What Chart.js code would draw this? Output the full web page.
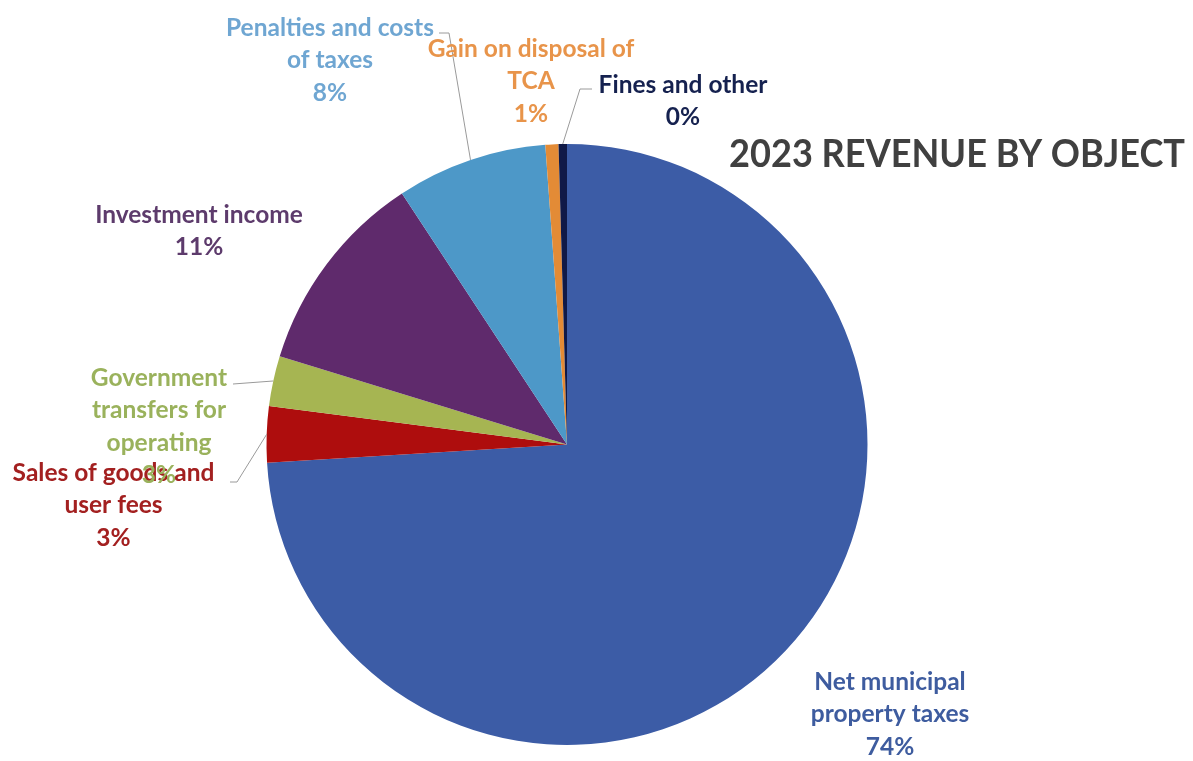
<!DOCTYPE html>
<html>
<head>
<meta charset="utf-8">
<script src="https://cdn.jsdelivr.net/npm/chart.js@4"></script>
<style>
  html, body { margin: 0; padding: 0; background: #ffffff; }
  #wrap { position: relative; width: 1193px; height: 761px; }
</style>
</head>
<body>
<div id="wrap"><canvas id="chart"></canvas></div>
<script>
// Revenue categories, in clockwise order from 12 o'clock
const categories = [
  'Net municipal property taxes',
  'Sales of goods and user fees',
  'Government transfers for operating',
  'Investment income',
  'Penalties and costs of taxes',
  'Gain on disposal of TCA',
  'Fines and other'
];
// Share of total revenue (%)
const shares = [74.0, 3.0, 2.7, 11.0, 8.1, 0.7, 0.45];
// How each category name wraps in its label
const labelLines = [
  ['Net municipal', 'property taxes'],
  ['Sales of goods and', 'user fees'],
  ['Government', 'transfers for', 'operating'],
  ['Investment income'],
  ['Penalties and costs', 'of taxes'],
  ['Gain on disposal of', 'TCA'],
  ['Fines and other']
];
const chartTitle = '2023 REVENUE BY OBJECT';

// Styling
const sliceColors = ['#3C5CA6', '#AE0D0D', '#A6B552', '#5F2A6C', '#4D98C8', '#E38B36', '#101947'];
const textColors  = ['#3E5C9F', '#A32020', '#9AB25C', '#5D3B6C', '#6FA6D2', '#E8944A', '#15214F'];

// Label block placement: centre x and first-line y; optional leader polyline start
const labelLayout = [
  { x: 890,   y: 682 },
  { x: 113.5, y: 473, leader: [[230, 482], [237, 482]] },
  { x: 159,   y: 378, leader: [[233, 384]] },
  { x: 199,   y: 215 },
  { x: 330,   y: 28,  leader: [[439, 33], [449, 33]] },
  { x: 531,   y: 49 },
  { x: 683,   y: 85,  leader: [[592, 89], [580, 89]] }
];
const LINE_H = 32.5;
const LABEL_FONT = 'bold 24.5px Lato, "Open Sans", sans-serif';
// Title box: left/right edges and baseline
const TITLE_BOX = { left: 729, right: 1185, baseline: 167 };

const total = shares.reduce((a, b) => a + b, 0);

const labelPlugin = {
  id: 'sliceLabels',
  afterDatasetsDraw(chart) {
    const ctx = chart.ctx;
    const meta = chart.getDatasetMeta(0);
    ctx.save();
    // leader lines
    meta.data.forEach((arc, i) => {
      const lay = labelLayout[i];
      if (!lay.leader) return;
      const p = arc.getProps(['x', 'y', 'startAngle', 'endAngle', 'outerRadius'], true);
      const mid = (p.startAngle + p.endAngle) / 2;
      const ex = p.x + Math.cos(mid) * p.outerRadius;
      const ey = p.y + Math.sin(mid) * p.outerRadius;
      ctx.beginPath();
      ctx.moveTo(lay.leader[0][0], lay.leader[0][1]);
      for (let k = 1; k < lay.leader.length; k++) ctx.lineTo(lay.leader[k][0], lay.leader[k][1]);
      ctx.lineTo(ex, ey);
      ctx.strokeStyle = '#9A9A9A';
      ctx.lineWidth = 1;
      ctx.stroke();
    });
    // label text
    ctx.font = LABEL_FONT;
    ctx.textAlign = 'center';
    ctx.textBaseline = 'middle';
    meta.data.forEach((arc, i) => {
      const lay = labelLayout[i];
      const pct = Math.round(shares[i] / total * 100) + '%';
      const lines = labelLines[i].concat([pct]);
      ctx.fillStyle = textColors[i];
      lines.forEach((t, k) => ctx.fillText(t, lay.x, lay.y + k * LINE_H));
    });
    // chart title, condensed to fit its box
    ctx.font = 'bold 39px Lato, "Open Sans", sans-serif';
    ctx.fillStyle = '#404040';
    ctx.textAlign = 'left';
    ctx.textBaseline = 'alphabetic';
    const w = ctx.measureText(chartTitle).width;
    const sx = (TITLE_BOX.right - TITLE_BOX.left) / w;
    ctx.translate(TITLE_BOX.left, TITLE_BOX.baseline);
    ctx.scale(sx, 1);
    ctx.fillText(chartTitle, 0, 0);
    ctx.restore();
  }
};

new Chart(document.getElementById('chart'), {
  type: 'pie',
  data: {
    labels: categories,
    datasets: [{
      data: shares,
      backgroundColor: sliceColors,
      borderWidth: 0,
      hoverOffset: 0
    }]
  },
  options: {
    responsive: true,
    maintainAspectRatio: false,
    animation: false,
    layout: { padding: { top: 144, bottom: 16, left: 266.5, right: 325.5 } },
    plugins: {
      legend: { display: false },
      title: { display: false },
      tooltip: { enabled: false }
    }
  },
  plugins: [labelPlugin]
});
</script>
</body>
</html>
